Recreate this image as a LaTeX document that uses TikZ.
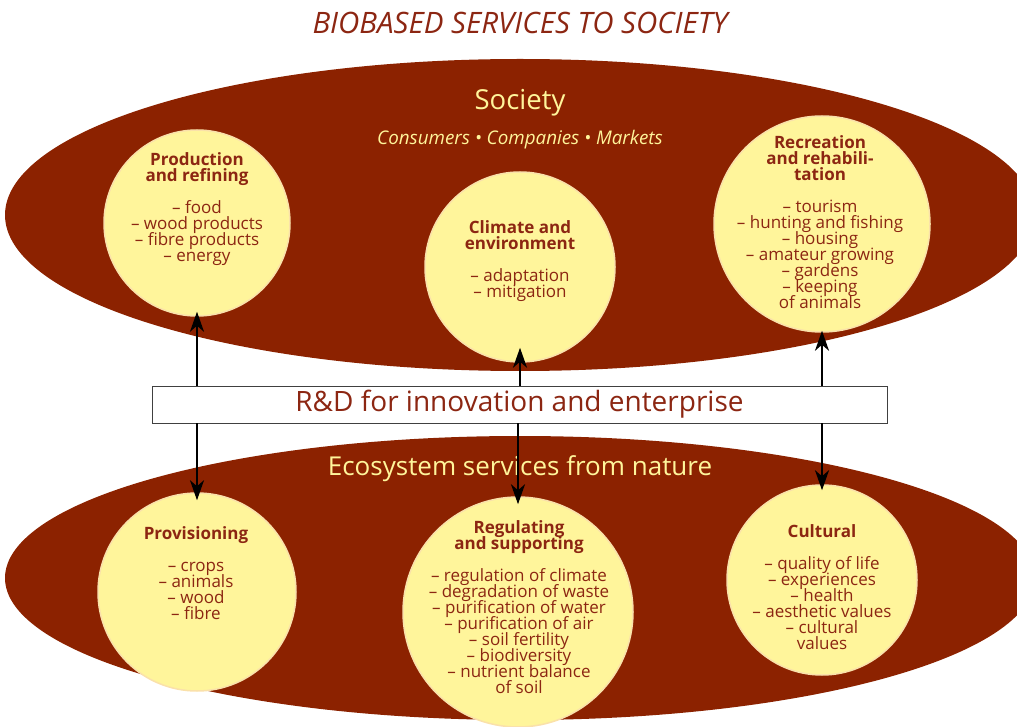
\documentclass[tikz,border=0pt]{standalone}
\usepackage{fontspec}
\setmainfont{Open Sans}
\usetikzlibrary{shapes.geometric,arrows.meta}
\definecolor{rust}{RGB}{140,34,0}
\definecolor{pale}{RGB}{255,245,155}
\definecolor{rim}{RGB}{250,225,170}
\definecolor{ink}{RGB}{140,38,18}
\newcommand{\tightlines}{\lineskiplimit=-60pt\lineskip=0pt}
\begin{document}
\begin{tikzpicture}[x=1pt,y=-1pt,
  field/.style={ellipse,fill=rust,inner sep=0pt},
  bubble/.style={circle,fill=pale,draw=rim,line width=1.5pt,inner sep=0pt},
  bubbletext/.style={align=center,text=ink,font=\fontsize{17}{16}\selectfont\tightlines},
  arr/.style={line width=2.2pt,-{Stealth[length=20pt,width=14pt,inset=6pt]}}]
\useasboundingbox (0,0) rectangle (1017,727);
\clip (0,0) rectangle (1017,727);

% background fields
\node[field,minimum width=1030pt,minimum height=312pt] (society) at (520,215) {};
\node[field,minimum width=1030pt,minimum height=284pt] (nature) at (520,578) {};

% title and field labels
\node[text=ink,font=\fontsize{29.5}{32}\selectfont\itshape] (title) at (520,23) {BIOBASED SERVICES TO SOCIETY};
\node[text=pale,font=\fontsize{27.5}{30}\selectfont] (societylbl) at (520,103) {Society};
\node[text=pale,font=\fontsize{18.8}{20}\selectfont\itshape] (actors) at (520,140) {Consumers • Companies • Markets};
\node[text=pale,font=\fontsize{26}{30}\selectfont] (naturelbl) at (520,469) {Ecosystem services from nature};

% service bubbles
\node[bubble,minimum size=186pt] (prod) at (197,223) {};
\node[bubble,minimum size=190pt] (clim) at (520,267) {};
\node[bubble,minimum size=216pt] (recr) at (822,224) {};
\node[bubble,minimum size=198pt] (prov) at (197,592) {};
\node[bubble,minimum size=230pt] (regu) at (518,612) {};
\node[bubble,minimum size=190pt] (cult) at (822,580) {};

\node[bubbletext] (prodtxt) at (197,209) {\textbf{Production}\\\textbf{and refining}\\[16pt]– food\\– wood products\\– fibre products\\– energy};
\node[bubbletext] (climtxt) at (520,261) {\textbf{Climate and}\\\textbf{environment}\\[16pt]– adaptation\\– mitigation};
\node[bubbletext] (recrtxt) at (820,222) {\textbf{Recreation}\\\textbf{and rehabili-}\\\textbf{tation}\\[16pt]– tourism\\– hunting and fishing\\– housing\\– amateur growing\\– gardens\\– keeping\\of animals};
\node[bubbletext] (provtxt) at (196,573) {\textbf{Provisioning}\\[16pt]– crops\\– animals\\– wood\\– fibre};
\node[bubbletext] (regutxt) at (519,607) {\textbf{Regulating}\\\textbf{and supporting}\\[16pt]– regulation of climate\\– degradation of waste\\– purification of water\\– purification of air\\– soil fertility\\– biodiversity\\– nutrient balance\\of soil};
\node[bubbletext] (culttxt) at (822,587) {\textbf{Cultural}\\[16pt]– quality of life\\– experiences\\– health\\– aesthetic values\\– cultural\\values};

% R&D bar
\node[draw=black!75,fill=white,line width=0.8pt,minimum width=735pt,minimum height=37pt,inner sep=0pt,
      text=ink,font=\fontsize{28}{30}\selectfont] (rd) at (519.5,404.5) {R\&D for innovation and enterprise};

% links from the bar to the bubbles
\draw[arr] (rd.north -| prod) -- ([yshift=5pt]prod.south);
\draw[arr] (rd.north -| clim) -- ([yshift=15pt]clim.south);
\draw[arr] (rd.north -| recr) -- ([yshift=2pt]recr.south);
\draw[arr] (rd.south -| prov) -- ([yshift=-8pt]prov.north);
\draw[arr] (rd.south -| regu) -- ([yshift=-8pt]regu.north);
\draw[arr] (rd.south -| cult) -- ([yshift=-6pt]cult.north);
\end{tikzpicture}
\end{document}
